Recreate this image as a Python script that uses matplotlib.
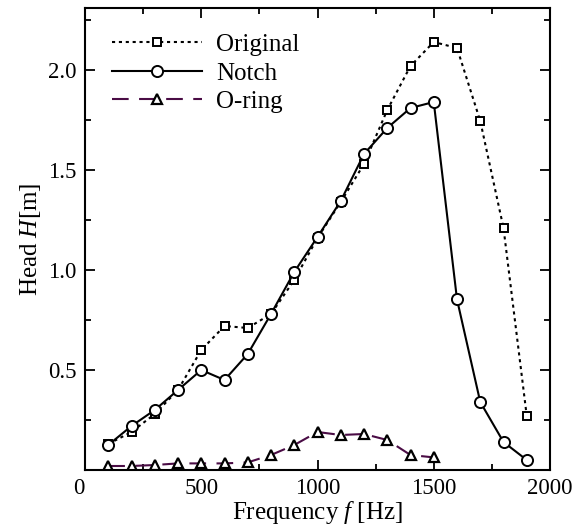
import matplotlib
matplotlib.use("Agg")
import matplotlib.pyplot as plt
from matplotlib.ticker import MultipleLocator

plt.rcParams['font.family'] = ['Liberation Serif', 'DejaVu Serif']
plt.rcParams['mathtext.fontset'] = 'custom'
plt.rcParams['mathtext.rm'] = 'Liberation Serif'
plt.rcParams['mathtext.it'] = 'Liberation Serif:italic'

freq = [100, 200, 300, 400, 500, 600, 700, 800, 900, 1000, 1100, 1200, 1300, 1400, 1500,
        1600, 1700, 1800, 1900]
original = [0.13, 0.19, 0.28, 0.40, 0.60, 0.72, 0.71, 0.78, 0.95, 1.16, 1.34, 1.53, 1.80,
            2.02, 2.14, 2.11, 1.745, 1.21, 0.27]
notch = [0.125, 0.22, 0.30, 0.40, 0.50, 0.45, 0.58, 0.78, 0.99, 1.165, 1.345, 1.58, 1.71,
         1.81, 1.84, 0.853, 0.34, 0.14, 0.05]
freq_oring = [100, 200, 300, 400, 500, 600, 700, 800, 900, 1000, 1100, 1200, 1300, 1400, 1500]
oring = [0.02, 0.02, 0.025, 0.033, 0.033, 0.033, 0.038, 0.075, 0.125, 0.19, 0.175, 0.18,
         0.15, 0.075, 0.063]

fig = plt.figure(figsize=(5.83, 5.27), dpi=100)
ax = fig.add_axes([85/583, 57/527, 465/583, 462/527])

ax.plot(freq, original, linestyle=(0, (1.5, 1.8)), color='black', lw=1.5,
        marker='s', ms=6, mfc='white', mec='black', mew=1.4, label='Original')
ax.plot(freq, notch, linestyle='-', color='black', lw=1.5,
        marker='o', ms=8, mfc='white', mec='black', mew=1.4, label='Notch')
ax.plot(freq_oring, oring, linestyle=(0, (8, 5)), color='#4a0c45', lw=1.5,
        marker='^', ms=7, mfc='white', mec='black', mew=1.6, label='O-ring')

ax.set_xlim(0, 2000)
ax.set_ylim(0, 2.31)
ax.xaxis.set_minor_locator(MultipleLocator(250))
ax.yaxis.set_minor_locator(MultipleLocator(0.25))
ax.set_yticks([0.5, 1.0, 1.5, 2.0])
ax.set_yticklabels(['0.5', '1.0', '1.5', '2.0'])
ax.set_xticks([0, 500, 1000, 1500, 2000])
ax.set_xticklabels(['0', '500', '1000', '1500', '2000'])
ax.tick_params(which='both', direction='in', top=True, right=True, width=1.3,
               labelsize=16.5, pad=6)
ax.tick_params(which='major', length=7.5)
ax.tick_params(which='minor', length=4)
for s in ax.spines.values():
    s.set_linewidth(1.5)
lbls = ax.get_xticklabels()
lbls[0].set_horizontalalignment('right')

ax.set_xlabel(r'Frequency $f$ [Hz]', fontsize=18, labelpad=0)
ax.set_ylabel(r'Head $H$[m]', fontsize=18, labelpad=4)

ax.legend(loc='upper left', frameon=False, fontsize=18, handlelength=3.6,
          handletextpad=0.55, labelspacing=0.24, borderaxespad=0.5,
          bbox_to_anchor=(0.01, 0.993))

fig.savefig('out.png', dpi=100)
